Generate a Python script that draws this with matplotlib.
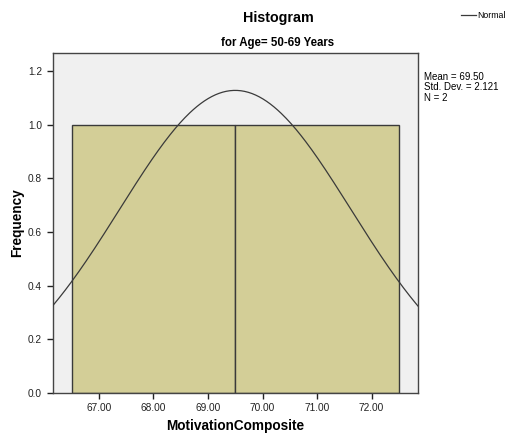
import numpy as np
import matplotlib
matplotlib.use("Agg")
import matplotlib.pyplot as plt

# histogram data
bin_edges = [66.5, 69.5, 72.5]
counts = [1, 1]
mean = 69.50
std = 2.121
n = 2
xticks = [67.00, 68.00, 69.00, 70.00, 71.00, 72.00]
yticks = [0.0, 0.2, 0.4, 0.6, 0.8, 1.0, 1.2]

plt.rcParams['font.family'] = ['Liberation Sans', 'DejaVu Sans']

W, H = 507, 436
fig = plt.figure(figsize=(W / 100, H / 100), dpi=100)
ax = fig.add_axes([53/W, 1 - 393/H, (418 - 53)/W, (393 - 53)/H])
ax.set_facecolor('#f0f0f0')

widths = np.diff(bin_edges)
ax.bar(bin_edges[:-1], counts, width=widths, align='edge',
       color='#d3ce97', edgecolor='#3a3a3a', linewidth=1.0, zorder=2)

# normal curve scaled to counts
xs = np.linspace(66.16, 72.85, 300)
bw = widths[0]
ys = n * bw / (std * np.sqrt(2 * np.pi)) * np.exp(-0.5 * ((xs - mean) / std) ** 2)
ax.plot(xs, ys, color='#3a3a3a', linewidth=0.9, zorder=3)

ax.set_xlim(66.16, 72.85)
ax.set_ylim(0, 1.268)
ax.set_xticks(xticks)
ax.set_xticklabels([f"{v:.2f}" for v in xticks])
ax.set_yticks(yticks)
ax.set_yticklabels([f"{v:.1f}" for v in yticks])
ax.tick_params(axis='both', labelsize=7.3, colors='#222222', length=4.5, width=1, direction='out')
ax.tick_params(axis='x', pad=3)

for s in ax.spines.values():
    s.set_color('#444444')
    s.set_linewidth(1.0)

ax.set_xlabel("MotivationComposite", fontsize=9.8, fontweight='bold', va='center')
ax.xaxis.set_label_coords(0.5, (393 - 426) / 340)
ax.set_ylabel("Frequency", fontsize=9.8, fontweight='bold', va='center')
ax.yaxis.set_label_coords((17 - 53) / 365, 0.5)

fig.text(278/W, 1 - 18/H, "Histogram", ha='center', va='center',
         fontsize=10.3, fontweight='bold')
fig.text(278/W, 1 - 43/H, "for Age= 50-69 Years", ha='center', va='center',
         fontsize=8.3, fontweight='bold')

fig.text(424/W, 1 - 72/H, "Mean = 69.50\nStd. Dev. = 2.121\nN = 2", ha='left', va='top',
         fontsize=7, linespacing=1.05)

# legend
fig.lines.append(plt.Line2D([461/W, 476/W], [1 - 15.5/H, 1 - 15.5/H],
                            transform=fig.transFigure, color='#3a3a3a', linewidth=0.9))
fig.text(477/W, 1 - 15.5/H, "Normal", ha='left', va='center', fontsize=6.3)

fig.savefig("out.png", dpi=100)
